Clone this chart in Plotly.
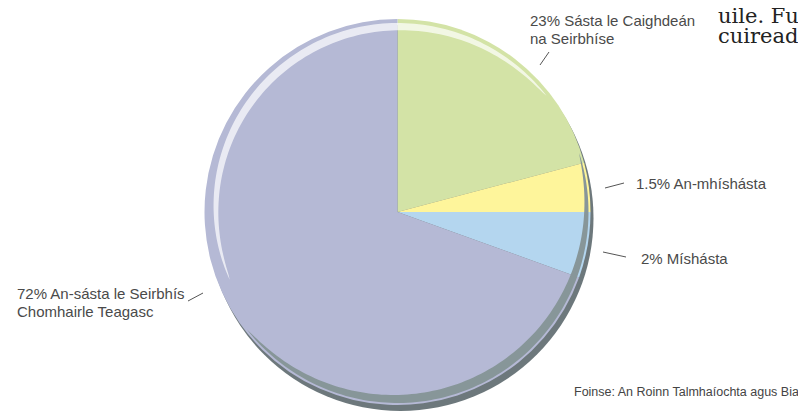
import numpy as np
import plotly.graph_objects as go

# ---- data ----
categories = ["Sásta le Caighdeán na Seirbhíse", "An-mhíshásta", "Míshásta",
              "An-sásta le Seirbhís Chomhairle Teagasc"]
shares = [20.9, 4.1, 5.5, 69.5]          # slice sizes as drawn
label_lines = [["23% Sásta le Caighdeán", "na Seirbhíse"],
               ["1.5% An-mhíshásta"],
               ["2% Míshásta"],
               ["72% An-sásta le Seirbhís", "Chomhairle Teagasc"]]
slice_colors = ["#d3e3a6", "#fef59b", "#b4d6ef", "#b5b9d5"]
source_text = "Foinse: An Roinn Talmhaíochta agus Bia"
body_text = ["uile. Fu", "cuireadl"]

# ---- layout geometry (screen pixels) ----
PAGE = 8                     # default body margin of the html page
SW, SH = 806, 412            # window size
W, H = SW - PAGE, SH - PAGE  # figure size
CX, CY, R = 397.5, 212.0, 193.0

# label anchor positions (left x, line-centre y's) and leader lines
label_pos = [(528, [20, 38]), (634, [183]), (639, [258]), (15, [293, 311])]
leaders = [((540, 65), (549, 52)), ((605, 188), (624, 183)),
           ((603, 252), (626, 257)), ((188, 301), (203, 293))]

fig = go.Figure()

fig.add_trace(go.Pie(
    labels=categories, values=shares, sort=False, direction="clockwise",
    rotation=0, textinfo="none", hoverinfo="label+percent",
    marker=dict(colors=slice_colors, line=dict(width=0)),
    domain=dict(x=[(CX - R - PAGE) / W, (CX + R - PAGE) / W],
                y=[1 - (CY + R - PAGE) / H, 1 - (CY - R - PAGE) / H]),
    showlegend=False,
))
# empty trace to create screen-pixel axes for decorations
fig.add_trace(go.Scatter(x=[None], y=[None], showlegend=False, hoverinfo="skip"))


def band_path(th1, th2, outer_off, width, n=120):
    t = np.linspace(0, 1, n)
    th = np.radians(th1 + (th2 - th1) * t)
    ro = R - outer_off(t)
    ri = ro - width(t)
    xo, yo = CX + ro * np.sin(th), CY - ro * np.cos(th)
    xi, yi = CX + ri * np.sin(th), CY - ri * np.cos(th)
    pts = list(zip(xo, yo)) + list(zip(xi[::-1], yi[::-1]))
    return "M " + " L ".join(f"{x:.2f},{y:.2f}" for x, y in pts) + " Z"


shapes = []
# drop shadow / disc side
shapes.append(dict(type="circle", xref="x", yref="y", layer="below",
                   x0=CX - R + 3, x1=CX + R + 3, y0=CY - R + 6, y1=CY + R + 6,
                   fillcolor="#6d787c", line=dict(width=0)))
# top highlight
shapes.append(dict(type="path", xref="x", yref="y", layer="above",
                   path=band_path(-112, 52,
                                  lambda t: 4 + 8 * np.clip(1 - t / 0.68, 0, None) ** 2,
                                  lambda t: 8 * np.sin(np.pi * t) ** 0.6),
                   fillcolor="rgba(255,255,255,0.7)", line=dict(width=0)))
# bottom inner shading
shapes.append(dict(type="path", xref="x", yref="y", layer="above",
                   path=band_path(72, 232, lambda t: 2 + 0 * t,
                                  lambda t: 9 * np.sin(np.pi * t) ** 0.7),
                   fillcolor="#879699", line=dict(width=0)))
# leader lines
for (x0, y0), (x1, y1) in leaders:
    shapes.append(dict(type="line", xref="x", yref="y", x0=x0, y0=y0, x1=x1, y1=y1,
                       line=dict(color="#555555", width=1)))

annotations = []
lab_font = dict(family="Liberation Sans, Arial, sans-serif", size=15, color="#4a4a4a")
for lines, (lx, ys) in zip(label_lines, label_pos):
    for txt, ly in zip(lines, ys):
        annotations.append(dict(x=lx, y=ly, xref="x", yref="y", text=txt,
                                showarrow=False, xanchor="left", yanchor="middle",
                                font=lab_font))
annotations.append(dict(x=572, y=392, xref="x", yref="y", text=source_text,
                        showarrow=False, xanchor="left", yanchor="middle",
                        font=dict(family="Liberation Sans, Arial, sans-serif",
                                  size=12.5, color="#444444")))
for txt, ly in zip(body_text, [16, 36]):
    annotations.append(dict(x=716, y=ly, xref="x", yref="y", text=txt,
                            showarrow=False, xanchor="left", yanchor="middle",
                            font=dict(family="DejaVu Serif, serif", size=21,
                                      color="#222222")))

fig.update_layout(
    width=W, height=H, margin=dict(l=0, r=0, t=0, b=0),
    paper_bgcolor="white", plot_bgcolor="rgba(0,0,0,0)",
    xaxis=dict(range=[PAGE, SW], visible=False, fixedrange=True),
    yaxis=dict(range=[SH, PAGE], visible=False, fixedrange=True),
    shapes=shapes, annotations=annotations, showlegend=False,
)

fig.write_html("out.html")
